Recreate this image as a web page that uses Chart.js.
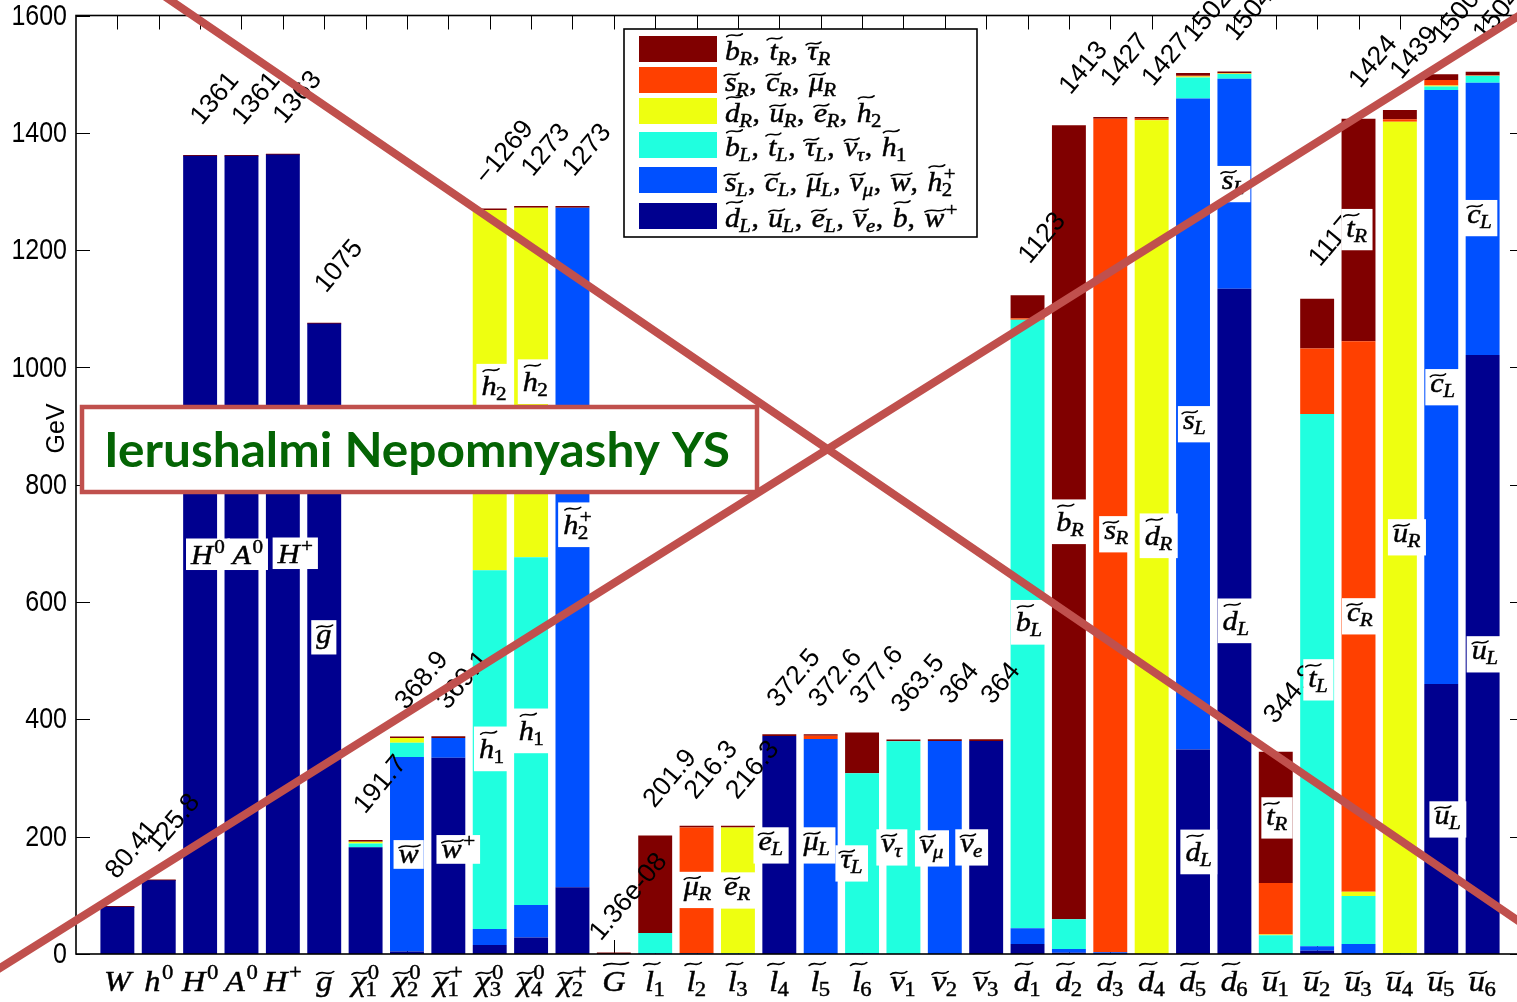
<!DOCTYPE html>
<html>
<head>
<meta charset="utf-8">
<title>Sparticle spectrum composition</title>
<script src="https://cdn.jsdelivr.net/npm/chart.js@4.4.1/dist/chart.umd.min.js"></script>
<style>
  html, body { margin: 0; padding: 0; overflow: hidden; background: #fff; }
  #wrap { position: absolute; left: 0; top: 0; width: 1530px; height: 1002px; }
</style>
</head>
<body>
<div id="wrap"><canvas id="c" width="1530" height="1002"></canvas></div>
<script>
// ---- particles along the x axis (mini TeX: ~ = tilde, ^ = superscript, _ = subscript)
const categories = ['W','h^0','H^0','A^0','H^+','~g','~χ^0_1','~χ^0_2','~χ^+_1','~χ^0_3','~χ^0_4','~χ^+_2','~G',
  '~l_1','~l_2','~l_3','~l_4','~l_5','~l_6','~ν_1','~ν_2','~ν_3',
  '~d_1','~d_2','~d_3','~d_4','~d_5','~d_6','~u_1','~u_2','~u_3','~u_4','~u_5','~u_6'];

// ---- masses in GeV (bar heights use the absolute value)
const masses = [80.41,125.8,1361,1361,1363,1075,191.7,368.9,369.1,-1269,1273,1273,1.36e-08,
  201.9,216.3,216.3,372.5,372.6,377.6,363.5,364,364,
  1123,1413,1427,1427,1502,1504,344.8,1117,1424,1439,1500,1504];
const massText = ['80.41','125.8','1361','1361','1363','1075','191.7','368.9','369.1','\u22121269','1273','1273','1.36e-08',
  '201.9','216.3','216.3','372.5','372.6','377.6','363.5','364','364',
  '1123','1413','1427','1427','1502','1504','344.8','1117','1424','1439','1500','1504'];

// ---- composition of each state, percent, one array per gauge-eigenstate group
const shareDL = [100,100,100,100,100,100,95.0,1.1,90.7,1.2,2.2,8.95,0,
  0,0,0,99.8,0,0,0,0,99.8,
  1.5,0.15,0,0,23.2,75.4,0,0.5,0,0,30.7,67.9];
const shareSL = [0,0,0,0,0,0,0,90.0,9.1,2.15,4.35,91.0,0,
  0.5,0.5,0,0,98.4,0.3,0,99.8,0,
  2.4,0.45,0.2,0,73.9,23.8,0,0.7,1.2,0,67.5,30.85];
const shareBL = [0,0,0,0,0,0,3.2,6.5,0,48.2,46.6,0,0,
  17.3,0,0.5,0,0,81.3,99.8,0,0,
  92.4,3.6,0,0,2.4,0.55,9.3,81.2,5.75,0.1,0.4,0.8];
const shareDR = [0,0,0,0,0,0,1.7,2.2,0,48.4,46.8,0,0,
  0,0,99.3,0,0,0,0,0,0,
  0,0,0,99.6,0.1,0.05,0.3,0,0.5,98.5,0.1,0];
const shareSR = [0,0,0,0,0,0,0,0,0,0,0,0,0,
  0,99.3,0,0,1.45,0,0,0,0,
  0.2,0,99.6,0.2,0.1,0.05,25.5,10.0,65.9,0.3,0.65,0.1];
const shareBR = [0,0,0,0,0,0,0.1,0.2,0.2,0.05,0.05,0.05,100,
  82.2,0.2,0.2,0.2,0.15,18.4,0.2,0.2,0.2,
  3.5,95.8,0.2,0.2,0.3,0.15,64.9,7.6,26.65,1.1,0.65,0.35];

// ---- legend entries, top row first
const legendNames = [
  '~b_R, ~t_R, ~τ_R',
  '~s_R, ~c_R, ~μ_R',
  '~d_R, ~u_R, ~e_R, ~h_2',
  '~b_L, ~t_L, ~τ_L, ~ν_τ, ~h_1',
  '~s_L, ~c_L, ~μ_L, ~ν_μ, ~w, ~h^+_2',
  '~d_L, ~u_L, ~e_L, ~ν_e, ~b, ~w^+'
];

// ---- in-bar tags: [bar number, text, shift in bar units, height in GeV]
const tags = [
  [3,'H^0',0.19,681.5],[4,'A^0',0.15,681.5],[5,'H^+',0.30,683.2],[6,'~g',-0.01,539.9],
  [8,'~w',0.04,169.7],[9,'~w^+',0.24,178.3],[10,'~h_1',0.05,349.7],[11,'~h_1',0.01,380.4],
  [10,'~h_2',0.11,968.0],[11,'~h_2',0.11,975.7],[12,'~h^+_2',0.12,731.8],
  [15,'~μ_R',0.03,109.2],[16,'~e_R',-0.01,108.3],[17,'~e_L',-0.20,185.1],[18,'~μ_L',-0.09,185.1],
  [19,'~τ_L',-0.25,154.4],[20,'~ν_τ',-0.28,181.7],[21,'~ν_μ',-0.31,180.0],[22,'~ν_e',-0.35,181.7],
  [23,'~b_L',0.04,565.5],[24,'~b_R',0.03,736.9],[25,'~s_R',0.15,715.6],[26,'~d_R',0.17,713.0],
  [27,'~s_L',0.04,903.2],[27,'~d_L',0.14,174.0],[28,'~d_L',0.04,568.0],[28,'~s_L',-0.02,1312.6],
  [29,'~t_R',0.03,232.0],[30,'~t_L',0.03,467.4],[31,'~c_R',0.04,575.7],[31,'~t_R',-0.04,1235.0],
  [32,'~u_R',0.17,710.4],[33,'~c_L',0.04,966.3],[33,'~u_L',0.16,229.4],[34,'~c_L',-0.07,1254.6],[34,'~u_L',0.06,510.9]
];

const COLORS = ['#00008F','#0050FF','#20FFDF','#EEFF10','#FF4000','#800000'];
const SHARES = [shareDL, shareSL, shareBL, shareDR, shareSR, shareBR];

const SANS = '"Liberation Sans", Arial, Helvetica, sans-serif';
const SERIF = '"Liberation Serif", "Times New Roman", serif';
const S = 1.15;          // vertical stretch of the tick numbers
const MX = 1.08;         // horizontal stretch of the math text
const TICK = 14;

// ---------- tiny math typesetter ----------
function parseAtom(tok) {
  const a = { tilde: false, base: '', sup: '', sub: '' };
  const ch = Array.from(tok);
  let i = 0;
  if (ch[i] === '~') { a.tilde = true; i++; }
  a.base = ch[i++];
  while (i < ch.length) {
    const k = ch[i++], v = ch[i++];
    if (k === '^') a.sup = v; else if (k === '_') a.sub = v;
  }
  return a;
}
const TALL = 'bdhlkGHWA';
function scriptFont(s, f) { return /[0-9+]/.test(s) ? `${f}px ${SERIF}` : `italic ${f}px ${SERIF}`; }
function glyph(ctx, s, x, y) {
  ctx.fillText(s, x, y);
  ctx.strokeText(s, x, y);
}
function drawTilde(ctx, x0, y, w, F) {
  const a = F * 0.05;
  ctx.save();
  ctx.lineWidth = Math.max(1.2, F * 0.055);
  ctx.lineCap = 'round';
  ctx.beginPath();
  ctx.moveTo(x0, y + a);
  ctx.bezierCurveTo(x0 + w * 0.32, y - a * 2.4, x0 + w * 0.68, y + a * 2.4, x0 + w, y - a);
  ctx.stroke();
  ctx.restore();
}
function atom(ctx, a, x, F, draw) {
  ctx.font = `italic ${F}px ${SERIF}`;
  const w = ctx.measureText(a.base).width;
  if (draw) glyph(ctx, a.base, x, 0);
  if (a.tilde && draw) {
    const tall = TALL.includes(a.base);
    const ty = tall ? -0.9 * F : (a.base === 't' ? -0.78 * F : -0.6 * F);
    const tw = Math.max(w * 1.05, F * 0.5);
    const cx = x + w / 2 + (tall ? F * 0.07 : F * 0.03);
    drawTilde(ctx, cx - tw / 2, ty, tw, F);
  }
  const sf = F * 0.7;
  let sw = 0;
  if (a.sup) {
    ctx.font = scriptFont(a.sup, sf);
    if (draw) glyph(ctx, a.sup, x + w + F * 0.05, -F * 0.4);
    sw = Math.max(sw, ctx.measureText(a.sup).width + F * 0.05);
  }
  if (a.sub) {
    ctx.font = scriptFont(a.sub, sf);
    if (draw) glyph(ctx, a.sub, x + w - F * 0.02, F * 0.17);
    sw = Math.max(sw, ctx.measureText(a.sub).width);
  }
  return w + sw;
}
function mathRun(ctx, text, F, draw) {
  let x = 0;
  text.split(', ').forEach((p, k) => {
    if (k > 0) {
      ctx.font = `${F}px ${SERIF}`;
      if (draw) glyph(ctx, ',', x, 0);
      x += ctx.measureText(',').width + F * 0.32;
    }
    x += atom(ctx, parseAtom(p), x, F, draw);
  });
  return x;
}
function drawMath(ctx, text, x, baseline, F, align) {
  ctx.save();
  ctx.fillStyle = '#000';
  ctx.strokeStyle = '#000';
  ctx.lineWidth = 0.45;
  ctx.textBaseline = 'alphabetic';
  ctx.textAlign = 'left';
  ctx.translate(x, baseline);
  ctx.scale(MX, 1);
  const w = mathRun(ctx, text, F, false);
  const ox = align === 'center' ? -w / 2 : (align === 'right' ? -w : 0);
  ctx.translate(ox, 0);
  mathRun(ctx, text, F, true);
  ctx.restore();
  return w * MX;
}
function mathWidth(ctx, text, F) {
  ctx.save();
  const w = mathRun(ctx, text, F, false);
  ctx.restore();
  return w * MX;
}

// ---------- decorations drawn around the bars ----------
const deco = {
  id: 'deco',
  beforeDatasetsDraw(chart) {
    const { ctx, chartArea: ca, scales: { x, y } } = chart;
    ctx.save();
    ctx.strokeStyle = '#000';
    ctx.lineWidth = 1;
    ctx.beginPath();
    for (let i = 1; i <= categories.length; i++) {
      const px = Math.round(x.getPixelForValue(i)) + 0.5;
      ctx.moveTo(px, ca.top); ctx.lineTo(px, ca.top + TICK);
      ctx.moveTo(px, ca.bottom); ctx.lineTo(px, ca.bottom - TICK);
    }
    y.ticks.forEach(t => {
      const py = Math.round(y.getPixelForValue(t.value)) + 0.5;
      ctx.moveTo(ca.left, py); ctx.lineTo(ca.left + TICK, py);
      ctx.moveTo(ca.right, py); ctx.lineTo(ca.right - TICK, py);
    });
    ctx.stroke();
    ctx.restore();
  },
  afterDatasetsDraw(chart) {
    const { ctx, chartArea: ca, scales: { x, y } } = chart;

    // axes box
    ctx.save();
    ctx.strokeStyle = '#000';
    ctx.lineWidth = 1.6;
    ctx.strokeRect(ca.left, ca.top, ca.right - ca.left, ca.bottom - ca.top);
    ctx.restore();

    // y tick labels
    y.ticks.forEach(t => {
      ctx.save();
      ctx.translate(ca.left - 9, y.getPixelForValue(t.value));
      ctx.scale(1, S);
      ctx.font = `25px ${SANS}`;
      ctx.fillStyle = '#000';
      ctx.textAlign = 'right';
      ctx.textBaseline = 'middle';
      ctx.fillText(String(t.value), 0, 1);
      ctx.restore();
    });

    // y axis title
    ctx.save();
    ctx.translate(57, y.getPixelForValue(896));
    ctx.rotate(-Math.PI / 2);
    ctx.font = `25px ${SANS}`;
    ctx.fillStyle = '#000';
    ctx.textAlign = 'center';
    ctx.textBaseline = 'middle';
    ctx.fillText('GeV', 0, 0);
    ctx.restore();

    // x tick labels
    categories.forEach((c, i) => {
      drawMath(ctx, c, x.getPixelForValue(i + 1), ca.bottom + 37, 30, 'center');
    });

    // mass values above the bars
    massText.forEach((t, i) => {
      const px = x.getPixelForValue(i + 1) + 15;
      const py = y.getPixelForValue(Math.abs(masses[i])) - 57;
      ctx.save();
      ctx.translate(px, py);
      ctx.rotate(-50 * Math.PI / 180);
      ctx.font = `26.5px ${SANS}`;
      ctx.fillStyle = '#000';
      ctx.textAlign = 'center';
      ctx.textBaseline = 'middle';
      ctx.fillText(t, 0, 0);
      ctx.restore();
    });

    // tags inside the bars
    const TF = 28;
    tags.forEach(([bar, text, dx, gev]) => {
      const cx = x.getPixelForValue(bar + dx);
      const cy = y.getPixelForValue(gev);
      const a = parseAtom(text);
      const w = mathWidth(ctx, text, TF);
      let top;
      if (a.tilde && TALL.includes(a.base)) top = -0.98 * TF;
      else if (a.tilde && a.base === 't') top = -0.86 * TF;
      else if (a.tilde) top = -0.68 * TF;
      else top = -0.78 * TF;
      let bottom = a.sub ? 0.33 * TF : (a.base === 'g' ? 0.26 * TF : 0.06 * TF);
      top -= 4; bottom += 4;
      const h = bottom - top;
      const bw = w + 10;
      ctx.save();
      ctx.fillStyle = '#fff';
      ctx.fillRect(cx - bw / 2, cy - h / 2, bw, h);
      ctx.restore();
      drawMath(ctx, text, cx - w / 2, cy - h / 2 - top, TF, 'left');
    });

    // legend
    const L = { x: 624, y: 29, w: 353, h: 208 };
    const rows = [36, 67, 98, 132, 167, 203];
    ctx.save();
    ctx.fillStyle = '#fff';
    ctx.fillRect(L.x, L.y, L.w, L.h);
    ctx.strokeStyle = '#000';
    ctx.lineWidth = 1.6;
    ctx.strokeRect(L.x, L.y, L.w, L.h);
    ctx.restore();
    legendNames.forEach((name, r) => {
      const color = COLORS[COLORS.length - 1 - r];
      ctx.save();
      ctx.fillStyle = color;
      ctx.fillRect(639, rows[r], 78, 26);
      ctx.restore();
      drawMath(ctx, name, 725, rows[r] + 24, 27.5, 'left');
    });

    // crossing strokes over the figure
    ctx.save();
    ctx.strokeStyle = 'rgb(192,80,77)';
    ctx.lineWidth = 8;
    ctx.beginPath();
    ctx.moveTo(170 - 300, -0.683 * 300);
    ctx.lineTo(1700, 0.683 * (1700 - 170));
    ctx.moveTo(-100, 968 + 0.627 * 100);
    ctx.lineTo(1700, 968 - 0.627 * 1700);
    ctx.stroke();
    ctx.restore();

    // name banner
    ctx.save();
    ctx.fillStyle = '#fff';
    ctx.fillRect(82, 407, 675, 85);
    ctx.strokeStyle = 'rgb(192,80,77)';
    ctx.lineWidth = 4.5;
    ctx.strokeRect(82, 407, 675, 85);
    const label = 'Ierushalmi Nepomnyashy YS';
    ctx.font = `bold 40px Lato, "Open Sans", sans-serif`;
    const m = ctx.measureText(label);
    const capH = ctx.measureText('I').actualBoundingBoxAscent;
    const sx = 626 / m.width, sy = 34 / capH;
    ctx.translate(104, 467);
    ctx.scale(sx, sy);
    ctx.fillStyle = '#046404';
    ctx.textBaseline = 'alphabetic';
    ctx.fillText(label, 0, 0);
    ctx.restore();
  }
};

// ---------- bars ----------
const groupNames = ['d_L group', 's_L group', 'b_L group', 'd_R group', 's_R group', 'b_R group'];
const datasets = SHARES.map((share, k) => ({
  label: groupNames[k],
  data: share.map((p, i) => ({ x: i + 1, y: Math.abs(masses[i]) * p / 100 })),
  backgroundColor: COLORS[k],
  borderWidth: 0,
  minBarLength: k === SHARES.length - 1 ? 1.6 : 0,
  categoryPercentage: 1,
  barPercentage: 0.82
}));

new Chart(document.getElementById('c'), {
  type: 'bar',
  data: { datasets },
  options: {
    responsive: false,
    animation: false,
    devicePixelRatio: 1,
    events: [],
    layout: { padding: { left: 0, top: 15.5, right: 6, bottom: 0 } },
    plugins: { legend: { display: false }, tooltip: { enabled: false } },
    scales: {
      x: {
        type: 'linear', min: 0, max: 35, stacked: true, offset: false,
        grid: { display: false }, border: { display: false },
        ticks: { display: false },
        afterFit: s => { s.height = 48; }
      },
      y: {
        min: 0, max: 1600, stacked: true,
        grid: { display: false }, border: { display: false },
        ticks: { display: false, stepSize: 200 },
        afterFit: s => { s.width = 76; }
      }
    }
  },
  plugins: [deco]
});
</script>
</body>
</html>
